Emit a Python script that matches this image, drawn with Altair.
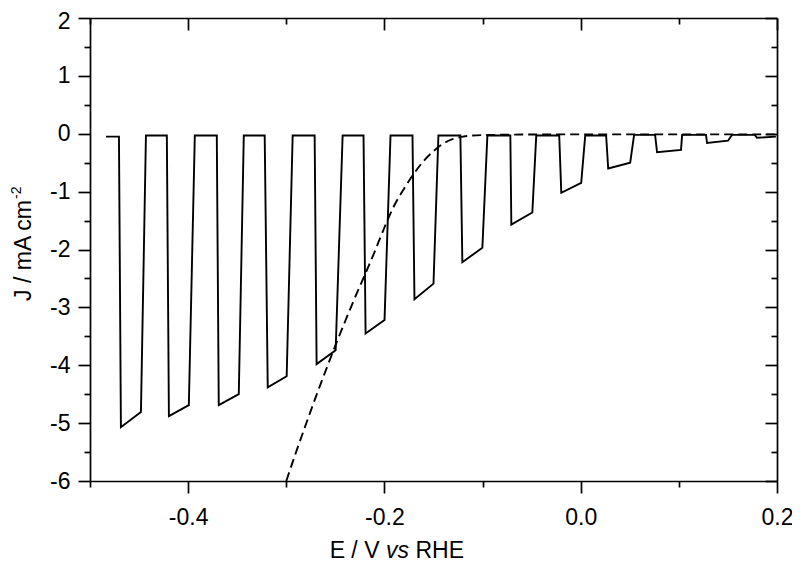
import altair as alt
import pandas as pd

# ---- data ----
E_solid = [-0.4837, -0.4705, -0.4685, -0.4481, -0.4430,
           -0.4217, -0.4196, -0.3993, -0.3932,
           -0.3708, -0.3688, -0.3484, -0.3433,
           -0.3220, -0.3189, -0.2996, -0.2935,
           -0.2711, -0.2691, -0.2497, -0.2426,
           -0.2213, -0.2192, -0.1999, -0.1938,
           -0.1714, -0.1694, -0.1500, -0.1450,
           -0.1226, -0.1206, -0.1002, -0.0951,
           -0.0717, -0.0707, -0.0493, -0.0453,
           -0.0219, -0.0198, 0.0005, 0.0046,
           0.0259, 0.0280, 0.0504, 0.0544,
           0.0758, 0.0778, 0.1022, 0.1033,
           0.1277, 0.1287, 0.1501, 0.1541,
           0.1775, 0.1795, 0.1989]
J_solid = [-0.05, -0.05, -5.07, -4.81, -0.03,
           -0.03, -4.88, -4.69, -0.03,
           -0.03, -4.69, -4.50, -0.03,
           -0.03, -4.38, -4.19, -0.03,
           -0.03, -3.98, -3.74, -0.03,
           -0.03, -3.45, -3.22, -0.03,
           -0.03, -2.86, -2.59, -0.03,
           -0.03, -2.22, -1.97, -0.03,
           -0.03, -1.57, -1.36, -0.03,
           -0.03, -1.02, -0.85, -0.03,
           -0.03, -0.60, -0.50, -0.02,
           -0.02, -0.32, -0.28, -0.02,
           -0.02, -0.16, -0.12, -0.02,
           -0.02, -0.07, -0.05]

E_dash = [-0.300, -0.290, -0.280, -0.270, -0.260, -0.250, -0.240, -0.230,
          -0.220, -0.210, -0.200, -0.190, -0.180, -0.170, -0.160, -0.150,
          -0.140, -0.130, -0.120, -0.110, -0.090, 0.000, 0.200]
J_dash = [-6.00, -5.50, -5.02, -4.55, -4.10, -3.66, -3.24, -2.83,
          -2.44, -2.04, -1.62, -1.24, -0.95, -0.69, -0.47, -0.30,
          -0.17, -0.09, -0.05, -0.03, -0.02, -0.01, -0.01]

x_tick_values = [-0.5, -0.4, -0.3, -0.2, -0.1, 0.0, 0.1, 0.2]
y_tick_values = [-6, -5.5, -5, -4.5, -4, -3.5, -3, -2.5, -2, -1.5, -1,
                 -0.5, 0, 0.5, 1, 1.5, 2]
x_title_parts = ["E / V", "vs", "RHE"]
y_title_parts = ["J / mA cm", "-2"]

# ---- layout ----
W, H = 687, 463
FONT = "Liberation Sans"
FS = 23

solid_df = pd.DataFrame({"E": E_solid, "J": J_solid, "i": list(range(len(E_solid)))})
dash_df = pd.DataFrame({"E": E_dash, "J": J_dash, "i": list(range(len(E_dash)))})

xs = alt.Scale(domain=[-0.5, 0.2], nice=False, zero=False)
ys = alt.Scale(domain=[-6, 2], nice=False, zero=False)

x_major = "abs(round(datum.value * 10)) % 2 == 0"
y_major = "abs(datum.value % 1) == 0"


def tsize(test, big, small):
    return {"condition": {"test": test, "value": big}, "value": small}


common = dict(domainColor="black", domainWidth=1.7, tickColor="black",
              tickWidth=1.7, grid=False, labelFont=FONT, labelFontSize=FS,
              labelColor="black", title=None, labelFlush=False,
              labelOverlap=False)

x_bottom = alt.Axis(orient="bottom", values=x_tick_values,
                    tickSize=tsize(x_major, 12, 6),
                    labelExpr=x_major + " ? replace(format(datum.value, '.1f'), '\u2212', '-') : ''",
                    labelPadding=13, **common)
x_top = alt.Axis(orient="bottom", offset=-H, values=x_tick_values,
                 tickSize=tsize(x_major, 12, 6), labels=False, **common)
y_left = alt.Axis(orient="left", values=y_tick_values,
                  tickSize=tsize(y_major, 12, 6),
                  labelExpr=y_major + " ? '' + datum.value : ''",
                  labelOffset={"condition": {"test": "datum.value == 2", "value": 3}, "value": 0},
                  labelPadding=8, **common)
y_right = alt.Axis(orient="left", offset=-W, values=y_tick_values,
                   tickSize=tsize(y_major, 12, 6), labels=False, **common)

solid = alt.Chart(solid_df).mark_line(color="black", strokeWidth=1.9, clip=True).encode(
    x=alt.X("E:Q", scale=xs, axis=x_bottom),
    y=alt.Y("J:Q", scale=ys, axis=y_left),
    order="i:Q",
)
dashed = alt.Chart(dash_df).mark_line(color="black", strokeWidth=1.9, strokeDash=[9, 5],
                                      interpolate="monotone", clip=True).encode(
    x=alt.X("E:Q", scale=xs, axis=x_top),
    y=alt.Y("J:Q", scale=ys, axis=y_right),
    order="i:Q",
)

one = pd.DataFrame({"k": [0]})


def label(text, x, y, **kw):
    opts = dict(font=FONT, fontSize=FS, color="black", baseline="alphabetic")
    opts.update(kw)
    return alt.Chart(one).mark_text(text=text, **opts).encode(x=alt.value(x), y=alt.value(y))


t1 = label(x_title_parts[0], 289.5, 540, align="right")
t2 = label(x_title_parts[1], 307.5, 540, align="center", fontStyle="italic")
t3 = label(x_title_parts[2], 325.5, 540, align="left")
t4 = label(y_title_parts[0], -59, 182, align="right", angle=270)
t5 = label(y_title_parts[1], -69, 181, align="left", angle=270, fontSize=14)

chart = alt.layer(solid, dashed, t1, t2, t3, t4, t5).resolve_axis(
    x="independent", y="independent"
).properties(
    width=W, height=H,
    autosize=alt.AutoSizeParams(type="none"),
    padding={"left": 82, "top": 10, "right": 15, "bottom": 82},
).configure_view(stroke=None)

chart.save("out.html", embed_options={"renderer": "svg", "actions": False})
